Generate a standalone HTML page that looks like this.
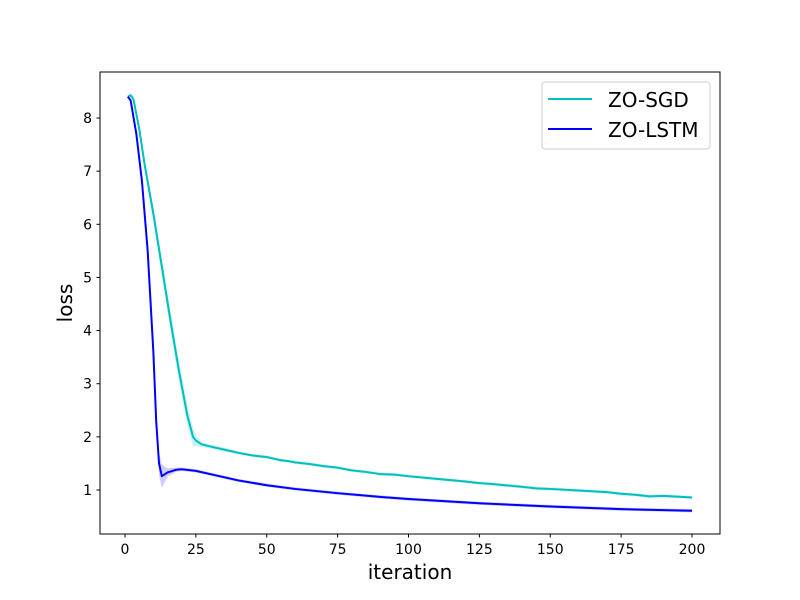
<!DOCTYPE html>
<html><head><meta charset="utf-8"><style>
body{margin:0;background:#fff}
svg{display:block;font-family:"DejaVu Sans","Liberation Sans",sans-serif}
</style></head><body>
<svg id="chart" width="800" height="600">
<rect x="0" y="0" width="800" height="600" fill="#fff"/>
<g id="bands"></g><g id="lines"></g>
<rect x="100" y="72" width="620" height="462" fill="none" stroke="#000" stroke-width="1"/>
<g id="xticks"></g><g id="yticks"></g>
<text x="410" y="579" font-size="20" text-anchor="middle">iteration</text>
<text x="0" y="0" font-size="20" text-anchor="middle" transform="translate(72,303) rotate(-90)">loss</text>
<g>
<rect x="542" y="82" width="168" height="67" rx="3" fill="#fff" fill-opacity="0.8" stroke="#ccc"/>
<g>
<line x1="548" y1="99" x2="592" y2="99" stroke="#00bfbf" stroke-width="2"/>
<text x="608" y="107" font-size="20">ZO-SGD</text></g>
<g>
<line x1="548" y1="129" x2="592" y2="129" stroke="#0000ff" stroke-width="2"/>
<text x="608" y="137" font-size="20">ZO-LSTM</text></g>
</g>
</svg>
<script>
const sgdIter=[1,2,3,5,7,10,13,16,19,22,24,25,27,30,35,40,45,48,50,55,58,60,65,70,75,80,85,90,95,100,110,120,125,130,140,145,150,160,170,175,180,185,190,200];
const sgdLoss=[8.4,8.43,8.35,7.8,7.1,6.2,5.2,4.2,3.25,2.4,2.0,1.93,1.86,1.82,1.76,1.7,1.65,1.63,1.62,1.56,1.54,1.52,1.49,1.45,1.42,1.37,1.34,1.3,1.29,1.26,1.21,1.16,1.13,1.11,1.06,1.03,1.02,0.99,0.96,0.93,0.91,0.88,0.89,0.86];
const sgdStd=[0.02,0.03,0.05,0.1,0.12,0.15,0.18,0.2,0.2,0.2,0.18,0.1,0.05,0.04,0.04,0.03,0.03,0.03,0.03,0.03,0.03,0.03,0.03,0.03,0.03,0.03,0.03,0.03,0.03,0.03,0.03,0.03,0.03,0.03,0.03,0.03,0.03,0.03,0.03,0.03,0.03,0.03,0.03,0.03];
const lstmIter=[1,2,4,6,8,10,11,12,13,15,18,20,25,30,40,50,60,75,90,100,125,150,175,200];
const lstmLoss=[8.4,8.33,7.7,6.8,5.5,3.6,2.3,1.5,1.26,1.33,1.38,1.39,1.36,1.3,1.18,1.09,1.02,0.94,0.87,0.83,0.75,0.69,0.64,0.61];
const lstmStd=[0.02,0.03,0.05,0.08,0.1,0.12,0.15,0.2,0.22,0.08,0.04,0.03,0.03,0.03,0.03,0.03,0.03,0.03,0.03,0.03,0.03,0.03,0.03,0.03];
const xTicks=[0,25,50,75,100,125,150,175,200];
const yTicks=[1,2,3,4,5,6,7,8];
const NS="http://www.w3.org/2000/svg";
const X=v=>125+(v-0)*(567/200);
const Y=v=>490-(v-1)*53.14;
function mk(tag,attrs,parent){const e=document.createElementNS(NS,tag);for(const k in attrs)e.setAttribute(k,attrs[k]);parent.appendChild(e);return e;}
function draw(it,lo,sd,color,name){
  let up=it.map((x,i)=>X(x)+','+Y(lo[i]+sd[i]));
  let dn=it.map((x,i)=>X(x)+','+Y(lo[i]-sd[i])).reverse();
  const b=mk('polygon',{points:up.concat(dn).join(' '),fill:color,'fill-opacity':0.2,stroke:'none'},document.getElementById('bands'));
  
  
  const l=mk('polyline',{points:it.map((x,i)=>X(x)+','+Y(lo[i])).join(' '),fill:'none',stroke:color,'stroke-width':2,'stroke-linejoin':'round'},document.getElementById('lines'));
  
  
}
draw(sgdIter,sgdLoss,sgdStd,'#00bfbf','zo-sgd');
draw(lstmIter,lstmLoss,lstmStd,'#0000ff','zo-lstm');
const xg=document.getElementById('xticks');
xTicks.forEach(t=>{
  mk('line',{x1:X(t),x2:X(t),y1:534,y2:537.5,stroke:'#000'},xg);
  const tx=mk('text',{x:X(t),y:554,'font-size':14,'text-anchor':'middle'},xg);
  tx.textContent=t;
  
  
});
const yg=document.getElementById('yticks');
yTicks.forEach(t=>{
  mk('line',{x1:96.5,x2:100,y1:Y(t),y2:Y(t),stroke:'#000'},yg);
  const tx=mk('text',{x:92,y:Y(t)+5,'font-size':14,'text-anchor':'end'},yg);
  tx.textContent=t;
  
  
});
</script>
</body></html>
